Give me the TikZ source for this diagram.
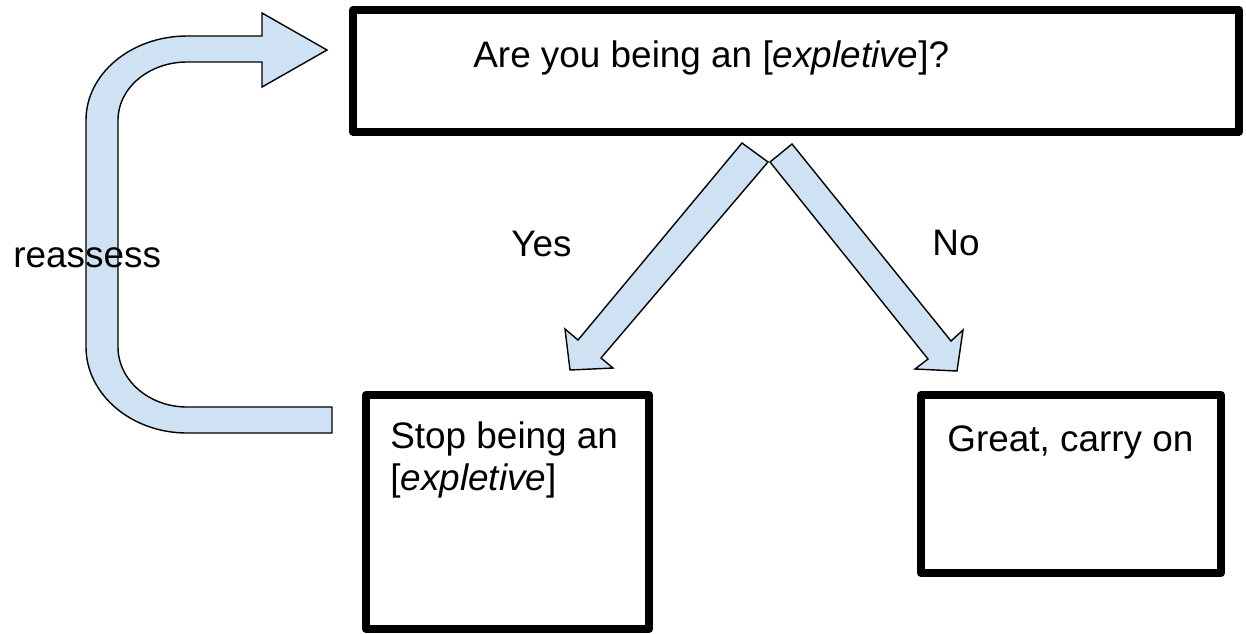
\documentclass[tikz,border=0pt]{standalone}
\usepackage{fontspec}
\setmainfont{Liberation Sans}
\definecolor{arrowblue}{HTML}{CFE2F3}
\tikzset{
  box/.style={draw,line width=4.5pt,line join=round,inner sep=0pt},
  blockarrow/.style={draw,fill=arrowblue,line width=0.8pt,line join=miter},
  txt/.style={anchor=base west,inner sep=0pt}
}
\begin{document}
\begin{tikzpicture}[x=0.02cm,y=-0.02cm]
\fontsize{21}{24}\selectfont
\useasboundingbox (0,0) rectangle (1246,633);
\draw[blockarrow] (332,433) -- (187,433) .. controls (131,433) and (86,394) .. (86,347)
  -- (86,120) .. controls (86,74) and (131,36) .. (187,36) -- (262,36) -- (262,13) -- (327,50)
  -- (262,87) -- (262,62) -- (187,62) .. controls (149,62) and (118,88) .. (118,120)
  -- (118,347) .. controls (118,380) and (149,407) .. (187,407) -- (332,407) -- cycle;
\draw[blockarrow] (742,143) -- (768,162) -- (601,358) -- (613,368) -- (570,370) -- (565,329) -- (578,340) -- cycle;
\draw[blockarrow] (770,162) -- (792,144) -- (951,341) -- (963,330) -- (957,371) -- (915,369) -- (928,359) -- cycle;
\node[box,minimum width=17.72cm,minimum height=2.44cm] (question) at (796,71) {};
\node[box,minimum width=5.66cm,minimum height=4.68cm] (stop) at (507.5,512) {};
\node[box,minimum width=6cm,minimum height=3.56cm] (carry) at (1071,484) {};
\node[txt] (qtext) at (473,67) {Are you being an [\textit{expletive}]?};
\node[txt] (stoptext) at (390,448) {Stop being an};
\node[txt] (stoptext2) at (390,490) {[\textit{expletive}]};
\node[txt] (carrytext) at (947,451) {Great, carry on};
\node[txt] (yes) at (511,256) {Yes};
\node[txt] (no) at (932,255) {No};
\node[txt] (reassess) at (13,267) {reassess};
\end{tikzpicture}
\end{document}
